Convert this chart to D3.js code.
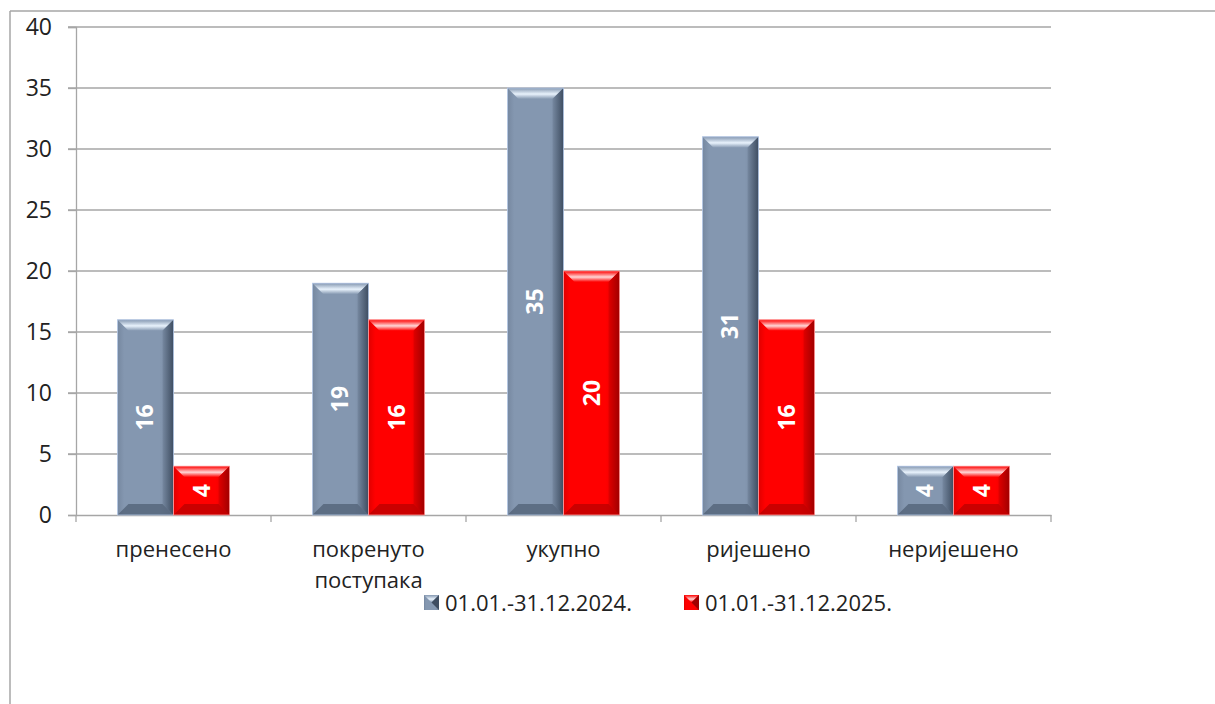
<!DOCTYPE html>
<html>
<head>
<meta charset="utf-8">
<script src="https://cdn.jsdelivr.net/npm/d3@7"></script>
<style>
  body { margin: 0; background: #fff; }
  svg { display: block; font-family: "Open Sans", "DejaVu Sans", sans-serif; }
</style>
</head>
<body>
<svg id="chart" width="1215" height="704"></svg>
<script>
const categories = ["пренесено", "покренуто поступака", "укупно", "ријешено", "неријешено"];
const seriesNames = ["01.01.-31.12.2024.", "01.01.-31.12.2025."];
const values2024 = [16, 19, 35, 31, 4];
const values2025 = [4, 16, 20, 16, 4];
const yTicks = [0, 5, 10, 15, 20, 25, 30, 35, 40];

const svg = d3.select('#chart');
const plotLeft = 76, plotRight = 1051, plotTop = 27, plotBottom = 515;

// outer frame (only top and left edges visible)
svg.append('line').attr('x1', 10).attr('y1', 11).attr('x2', 1215).attr('y2', 11)
    .attr('stroke', '#a6a6a6').attr('stroke-width', 1.5);
svg.append('line').attr('x1', 10).attr('y1', 11).attr('x2', 10).attr('y2', 704)
    .attr('stroke', '#a6a6a6').attr('stroke-width', 1.5);

const x0 = d3.scaleBand().domain(categories).range([plotLeft, plotRight]).padding(0);
const x1 = d3.scaleBand().domain(seriesNames).range([0, x0.bandwidth()])
    .paddingInner(0).paddingOuter(0.74);
const y = d3.scaleLinear().domain([0, 40]).range([plotBottom, plotTop]);

// gradients
const defs = svg.append('defs');
const colors = {
    "01.01.-31.12.2024.": { base: '#8497b0', light: '#e8f2fc', dark: '#3e4d61', mid: '#7688a0' },
    "01.01.-31.12.2025.": { base: '#ff0000', light: '#ffd6d6', dark: '#a00000', mid: '#e00000' }
};
seriesNames.forEach((s, i) => {
    const c = colors[s];
    const g = defs.append('linearGradient').attr('id', 'hg' + i)
        .attr('x1', 0).attr('x2', 1).attr('y1', 0).attr('y2', 0);
    g.append('stop').attr('offset', '0%').attr('stop-color', c.mid);
    g.append('stop').attr('offset', '12%').attr('stop-color', c.base);
    g.append('stop').attr('offset', '75%').attr('stop-color', c.base);
    g.append('stop').attr('offset', '100%').attr('stop-color', c.mid);
    const t = defs.append('linearGradient').attr('id', 'tg' + i)
        .attr('x1', 0).attr('x2', 0).attr('y1', 0).attr('y2', 1);
    t.append('stop').attr('offset', '0%').attr('stop-color', c.base);
    t.append('stop').attr('offset', '55%').attr('stop-color', c.light);
    t.append('stop').attr('offset', '100%').attr('stop-color', c.base);
    const r = defs.append('linearGradient').attr('id', 'rg' + i)
        .attr('x1', 0).attr('x2', 1).attr('y1', 0).attr('y2', 0);
    r.append('stop').attr('offset', '0%').attr('stop-color', c.mid);
    r.append('stop').attr('offset', '100%').attr('stop-color', c.dark);
});

// gridlines
svg.append('g').selectAll('line').data(yTicks.filter(d => d > 0)).join('line')
    .attr('x1', plotLeft - 8).attr('x2', plotRight)
    .attr('y1', d => y(d)).attr('y2', d => y(d))
    .attr('stroke', '#a6a6a6').attr('stroke-width', 1.3);

// y axis
const yAxis = svg.append('g').attr('transform', `translate(${plotLeft},0)`)
    .call(d3.axisLeft(y).tickValues(yTicks).tickSize(8).tickPadding(16));
yAxis.select('.domain').attr('stroke', '#a6a6a6').attr('stroke-width', 1.3);
yAxis.selectAll('.tick line').attr('stroke', '#a6a6a6').attr('stroke-width', 1.3);
yAxis.selectAll('.tick text').attr('font-size', 23).attr('fill', '#222')
    .attr('font-family', '"Open Sans", sans-serif');

// x axis
const xAxis = svg.append('g').attr('transform', `translate(0,${plotBottom})`)
    .call(d3.axisBottom(x0).tickSize(0).tickFormat(''));
xAxis.select('.domain').attr('stroke', '#a6a6a6').attr('stroke-width', 1.3);
svg.append('g').selectAll('line').data(d3.range(categories.length + 1)).join('line')
    .attr('x1', i => plotLeft + i * x0.step()).attr('x2', i => plotLeft + i * x0.step())
    .attr('y1', plotBottom).attr('y2', plotBottom + 7)
    .attr('stroke', '#a6a6a6').attr('stroke-width', 1.3);

// category labels
const catLabels = svg.append('g').selectAll('text').data(categories).join('text')
    .attr('x', d => x0(d) + x0.bandwidth() / 2)
    .attr('y', 557)
    .attr('text-anchor', 'middle')
    .attr('font-size', 22)
    .attr('fill', '#222');
catLabels.each(function (d) {
    const words = d.split(' ');
    const t = d3.select(this);
    words.forEach((w, i) => {
        t.append('tspan').attr('x', x0(d) + x0.bandwidth() / 2)
            .attr('dy', i === 0 ? 0 : 31).text(w);
    });
});

// bars
const data = [];
categories.forEach((c, ci) => {
    data.push({ cat: c, series: seriesNames[0], si: 0, value: values2024[ci] });
    data.push({ cat: c, series: seriesNames[1], si: 1, value: values2025[ci] });
});

const bars = svg.append('g').selectAll('g').data(data).join('g');
bars.each(function (d) {
    const g = d3.select(this);
    const c = colors[d.series];
    const bx = x0(d.cat) + x1(d.series);
    const bw = x1.bandwidth();
    const by = y(d.value);
    const bh = plotBottom - by;
    const b = Math.min(11, bh / 2.2, bw / 3);
    g.append('rect').attr('x', bx).attr('y', by).attr('width', bw).attr('height', bh)
        .attr('fill', `url(#hg${d.si})`);
    // top bevel
    g.append('path').attr('d', `M${bx},${by}L${bx + bw},${by}L${bx + bw - b},${by + b}L${bx + b},${by + b}Z`)
        .attr('fill', `url(#tg${d.si})`);
    // right bevel
    g.append('path').attr('d', `M${bx + bw},${by}L${bx + bw - b},${by + b}L${bx + bw - b},${plotBottom - b}L${bx + bw},${plotBottom}Z`)
        .attr('fill', `url(#rg${d.si})`);
    // bottom bevel
    g.append('path').attr('d', `M${bx},${plotBottom}L${bx + b},${plotBottom - b}L${bx + bw - b},${plotBottom - b}L${bx + bw},${plotBottom}Z`)
        .attr('fill', c.dark).attr('opacity', 0.55);
    g.append('rect').attr('x', bx).attr('y', by).attr('width', bw).attr('height', bh)
        .attr('fill', 'none').attr('stroke', d.si === 0 ? '#b4c7e7' : '#ff9c9c').attr('stroke-width', 0.8);
    // value label
    const cx = bx + bw / 2, cy = by + bh / 2;
    g.append('text').attr('transform', `translate(${cx + 8},${cy}) rotate(-90)`)
        .attr('text-anchor', 'middle')
        .attr('font-size', 23).attr('font-weight', 'bold').attr('fill', '#fff')
        .text(d.value);
});

// legend
const legendX = [424, 684];
const legend = svg.append('g').selectAll('g').data(seriesNames).join('g')
    .attr('transform', (d, i) => `translate(${legendX[i]},595)`);
legend.append('rect').attr('width', 15).attr('height', 15)
    .attr('fill', (d, i) => `url(#hg${i})`);
legend.append('path').attr('d', 'M0,0L15,0L7.5,7.5Z').attr('fill', (d, i) => `url(#tg${i})`);
legend.append('path').attr('d', 'M15,0L15,15L7.5,7.5Z').attr('fill', d => colors[d].dark);
legend.append('text').attr('x', 21).attr('y', 16)
    .attr('font-size', 22).attr('fill', '#222').text(d => d);
</script>
</body>
</html>
